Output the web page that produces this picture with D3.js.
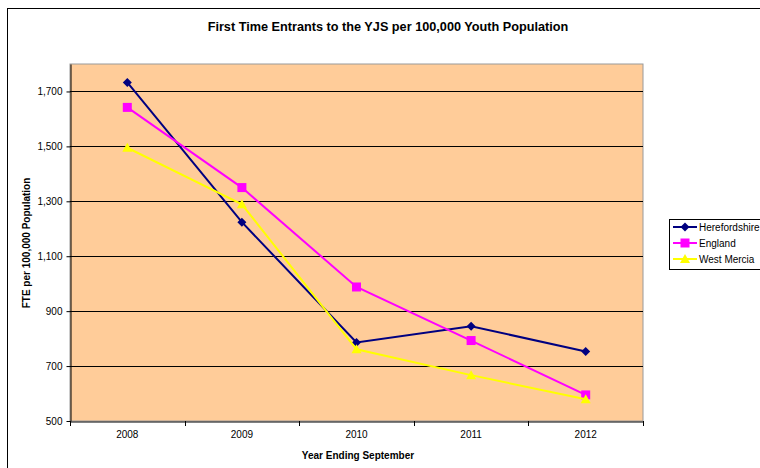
<!DOCTYPE html>
<html><head><meta charset="utf-8">
<script src="https://cdn.jsdelivr.net/npm/d3@7"></script>
<style>body{margin:0;background:#fff}svg{display:block;font-family:"Liberation Sans",Arial,sans-serif}</style>
</head><body>
<svg id="c" width="760" height="468"></svg>
<script>
const categories = ["2008","2009","2010","2011","2012"];
const herefordshire = [1733,1224,786,845,753];
const england = [1642,1350,988,793,595];
const westMercia = [1495,1289,761,667,579];
const yTicks = [500,700,900,1100,1300,1500,1700];
const seriesNames = ["Herefordshire","England","West Mercia"];
const seriesColors = ["#000080","#FF00FF","#FFFF00"];
const seriesShapes = ["diamond","square","triangle"];

const svg = d3.select("#c");
const L=70,R=643,T=64,B=421;
svg.append("rect").attr("x",7.5).attr("y",8.5).attr("width",800).attr("height",500).attr("fill","#fff").attr("stroke","#000").attr("stroke-width",1);

const x = d3.scaleBand().domain(categories).range([L,R]);
const y = d3.scaleLinear().domain([500,1800]).range([B,T]);

svg.append("rect").attr("x",L).attr("y",T).attr("width",R-L).attr("height",B-T).attr("fill","#FFCC99").attr("stroke","#9a9a9a").attr("stroke-width",1);

svg.append("g").selectAll("line").data(yTicks.filter(d=>d>500)).join("line")
  .attr("x1",L).attr("x2",R).attr("y1",d=>Math.round(y(d))+0.5).attr("y2",d=>Math.round(y(d))+0.5)
  .attr("stroke","#000").attr("stroke-width",1);

const yAxis = svg.append("g").attr("transform",`translate(${L+0.5},0)`)
  .call(d3.axisLeft(y).tickValues(yTicks).tickFormat(d3.format(",")).tickSize(4).tickSizeOuter(0));
yAxis.select(".domain").attr("stroke","#000");
yAxis.selectAll("text").attr("font-size",10).attr("fill","#000").attr("dx",-1);

const xAxis = svg.append("g").attr("transform",`translate(0,${B+0.5})`)
  .call(d3.axisBottom(x).tickSize(0).tickSizeOuter(0));
xAxis.select(".domain").attr("stroke","#000");
xAxis.selectAll("text").attr("font-size",10).attr("fill","#000").attr("dy",13);
// category boundary ticks
const bounds = categories.map(c=>x(c)).concat([x(categories[categories.length-1])+x.bandwidth()]);
svg.append("g").selectAll("line").data(bounds).join("line")
  .attr("x1",d=>Math.round(d)+0.5).attr("x2",d=>Math.round(d)+0.5).attr("y1",B).attr("y2",B+5).attr("stroke","#000");

svg.append("text").attr("x",388).attr("y",31).attr("text-anchor","middle").attr("font-size",12.7).attr("font-weight","bold").text("First Time Entrants to the YJS per 100,000 Youth Population");
svg.append("text").attr("x",358).attr("y",459).attr("text-anchor","middle").attr("font-size",10).attr("font-weight","bold").text("Year Ending September");
svg.append("text").attr("transform","translate(30,243) rotate(-90)").attr("text-anchor","middle").attr("font-size",10).attr("font-weight","bold").text("FTE per 100,000 Population");

const data = [herefordshire, england, westMercia];
const cx = c => x(c)+x.bandwidth()/2;
const line = d3.line().x((d,i)=>cx(categories[i])).y(d=>y(d));

function marker(g, shape, color, px, py){
  if(shape==="diamond") g.append("path").attr("d",`M${px},${py-4.5}L${px+4.5},${py}L${px},${py+4.5}L${px-4.5},${py}Z`).attr("fill",color);
  else if(shape==="square") g.append("rect").attr("x",px-4.5).attr("y",py-4.5).attr("width",9).attr("height",9).attr("fill",color);
  else g.append("path").attr("d",`M${px},${py-5}L${px+5},${py+4}L${px-5},${py+4}Z`).attr("fill",color);
}

data.forEach((vals,si)=>{
  const g = svg.append("g");
  g.append("path").datum(vals).attr("d",line).attr("fill","none").attr("stroke",seriesColors[si]).attr("stroke-width",2);
  vals.forEach((v,i)=>marker(g,seriesShapes[si],seriesColors[si],cx(categories[i]),y(v)));
});

// legend
const lg = svg.append("g");
lg.append("rect").attr("x",669.5).attr("y",219.5).attr("width",100).attr("height",50).attr("fill","#fff").attr("stroke","#000");
seriesNames.forEach((n,i)=>{
  const ly = 227 + i*16;
  lg.append("line").attr("x1",673).attr("x2",697).attr("y1",ly).attr("y2",ly).attr("stroke",seriesColors[i]).attr("stroke-width",2);
  marker(lg,seriesShapes[i],seriesColors[i],685,ly);
  lg.append("text").attr("x",699).attr("y",ly+3.5).attr("font-size",10).text(n);
});
</script>
</body></html>
